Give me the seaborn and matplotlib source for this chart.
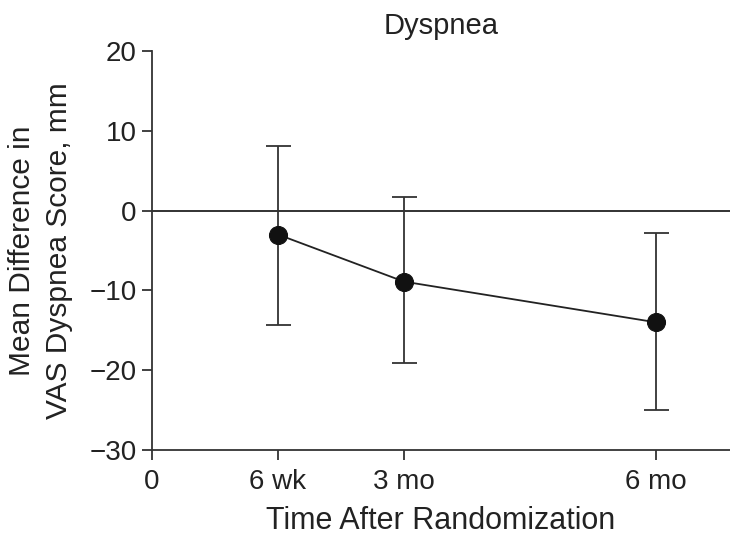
import matplotlib
matplotlib.use("Agg")
import matplotlib.pyplot as plt
import seaborn as sns
import pandas as pd

# Data (x in months after randomization)
time_months = [1.5, 3.0, 6.0]
mean_diff = [-3.0, -8.9, -14.0]
ci_lower = [-14.3, -19.1, -25.0]
ci_upper = [8.1, 1.7, -2.8]
x_tick_pos = [0, 1.5, 3, 6]
x_tick_labels = ["0", "6 wk", "3 mo", "6 mo"]
y_ticks = [-30, -20, -10, 0, 10, 20]
y_tick_labels = ["\u221230", "\u221220", "\u221210", "0", "10", "20"]

sns.set_style("ticks")
plt.rcParams['font.family'] = ['Liberation Sans', 'DejaVu Sans']
TXT = "#222222"

df = pd.DataFrame({"time": time_months, "mean": mean_diff})

fig = plt.figure(figsize=(7.3, 5.37), dpi=100)
ax = fig.add_axes([152/730, 1-450/537, 1-152/730, (450-51)/537])

ax.axhline(0, color="#222222", lw=1.3, zorder=1)

yerr = [[m - l for m, l in zip(mean_diff, ci_lower)],
        [u - m for m, u in zip(mean_diff, ci_upper)]]
ax.errorbar(time_months, mean_diff, yerr=yerr, fmt="none", ecolor="#333333",
            elinewidth=1.3, capsize=9, capthick=1.3, zorder=2)

sns.lineplot(data=df, x="time", y="mean", ax=ax, color="#222222", lw=1.3,
             marker="o", markersize=13, markerfacecolor="#111111",
             markeredgecolor="#111111", zorder=3)

ax.set_xlim(0, 6.88)
ax.set_ylim(-30, 20)
ax.set_xticks(x_tick_pos)
ax.set_xticklabels(x_tick_labels)
ax.set_yticks(y_ticks)
ax.set_yticklabels(y_tick_labels)

for s in ["top", "right"]:
    ax.spines[s].set_visible(False)
for s in ["left", "bottom"]:
    ax.spines[s].set_color("#333333")
    ax.spines[s].set_linewidth(1.3)

ax.tick_params(axis="both", direction="out", length=7, width=1.3,
               color="#333333", labelsize=20, labelcolor=TXT)
ax.tick_params(axis="x", pad=7)
ax.tick_params(axis="y", pad=4)

ax.set_xlabel("Time After Randomization", fontsize=22, color=TXT, labelpad=7.5)
ax.set_ylabel("Mean Difference in\nVAS Dyspnea Score, mm", fontsize=21.5,
              color=TXT, labelpad=12, linespacing=1.42)
ax.set_title("Dyspnea", fontsize=21, color=TXT, pad=12)

fig.savefig("out.png", dpi=100)
